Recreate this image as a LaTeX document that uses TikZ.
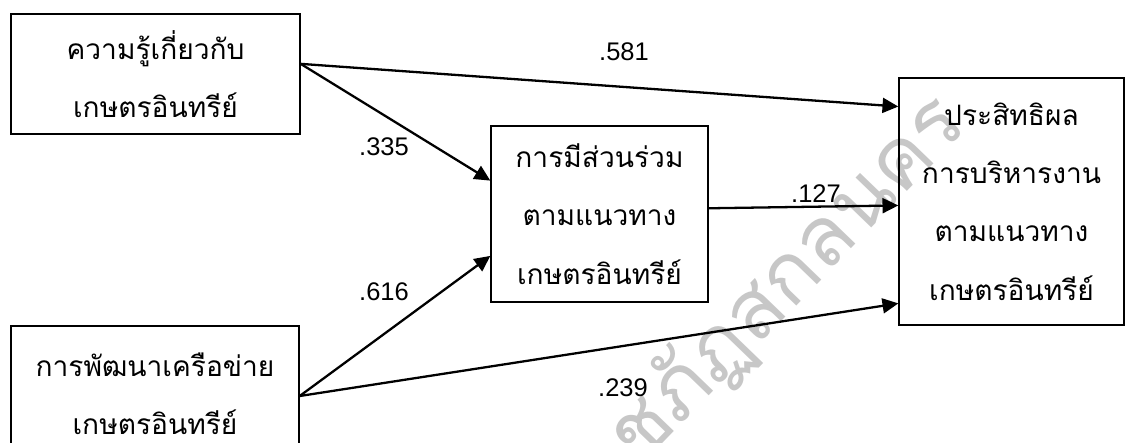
\documentclass[tikz,border=0pt]{standalone}
\usepackage{fontspec}
\setmainfont{Liberation Sans}
\newfontfamily\thaifont[Script=Thai]{Loma}
\usetikzlibrary{arrows.meta}

\begin{document}
\begin{tikzpicture}[scale=0.2]
\tikzstyle{every node}+=[inner sep=0pt]
\tikzstyle{box}=[draw=black, line width=0.75pt, align=center, font=\thaifont\fontsize{16}{33.2}\selectfont]
\tikzstyle{link}=[draw=black, line width=1.3pt, -{Triangle[length=9pt,width=8.5pt]}]
\tikzstyle{coef}=[font=\fontsize{14.5}{16}\selectfont]
\useasboundingbox (0,0) rectangle (112.7,-44.2);
% watermark
\node [rotate=46, text=black!22, font=\thaifont\fontsize{47}{56}\selectfont] (mark) at (75.6,-31.2) {ราชภัฏสกลนคร};
% variables
\node [box, minimum width=5.78cm, minimum height=2.4cm] (know) at (15.55,-7.4) {ความรู้เกี่ยวกับ\\เกษตรอินทรีย์};
\node [box, minimum width=5.76cm, minimum height=2.7cm] (net) at (15.5,-39.35) {การพัฒนาเครือข่าย\\เกษตรอินทรีย์};
\node [box, minimum width=4.34cm, minimum height=3.52cm] (part) at (59.95,-21.4) {การมีส่วนร่วม\\ตามแนวทาง\\เกษตรอินทรีย์};
\node [box, minimum width=4.5cm, minimum height=4.94cm] (eff) at (101.15,-20.15) {ประสิทธิผล\\การบริหารงาน\\ตามแนวทาง\\เกษตรอินทรีย์};
% paths
\draw [link] (know.4.75) -- (eff.140.9);
\draw [link] (know.4.75) -- (part.163.6);
\draw [link] (net.-1.8) -- (part.201.6);
\draw [link] (net.-1.8) -- (eff.222.06);
\draw [link] (part.3.7) -- (eff.182.8);
% coefficients
\node [coef] (c581) at (62.4,-5.2) {.581};
\node [coef] (c335) at (38.4,-14.7) {.335};
\node [coef] (c127) at (81.6,-19.4) {.127};
\node [coef] (c616) at (38.4,-29.2) {.616};
\node [coef] (c239) at (62.3,-38.8) {.239};
\end{tikzpicture}
\end{document}
